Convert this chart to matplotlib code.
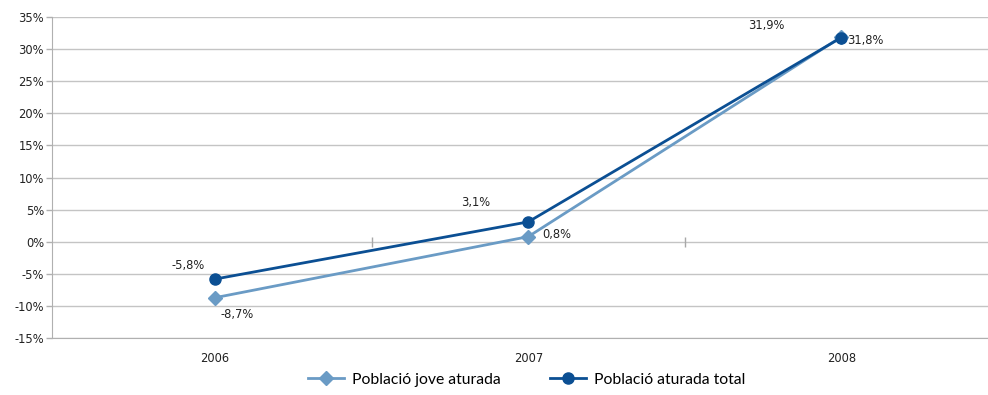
import matplotlib.pyplot as plt
from matplotlib.ticker import FuncFormatter

# Data
years = ['2006', '2007', '2008']
jove = [-8.7, 0.8, 31.9]
total = [-5.8, 3.1, 31.8]
jove_label = 'Població jove aturada'
total_label = 'Població aturada total'

# label offsets in pixels (dx, dy) for each point
jove_off = [(22, -17), (28, 2), (-75, 11)]
total_off = [(-27, 14), (-53, 19), (24, -3)]

light = '#6a9bc5'
dark = '#0b4f93'
grid_c = '#c4c4c4'
txt_c = '#222222'
fs = 8.3

plt.rcParams['font.family'] = ['DejaVu Sans']

fig = plt.figure(figsize=(9.88, 3.95), dpi=100)
ax = fig.add_axes([0.053, 0.144, 0.957, 0.813])

x = list(range(len(years)))
ax.plot(x, jove, color=light, lw=2.0, marker='D', ms=7, label=jove_label, zorder=3)
ax.plot(x, total, color=dark, lw=2.0, marker='o', ms=8, label=total_label, zorder=4)

px = 72 / 100
for xi, v, (dx, dy) in zip(x, jove, jove_off):
    ax.annotate(f'{v:.1f}%'.replace('.', ','), (xi, v), xytext=(dx * px, dy * px),
                textcoords='offset points', ha='center', va='center', fontsize=fs, color=txt_c)
for xi, v, (dx, dy) in zip(x, total, total_off):
    ax.annotate(f'{v:.1f}%'.replace('.', ','), (xi, v), xytext=(dx * px, dy * px),
                textcoords='offset points', ha='center', va='center', fontsize=fs, color=txt_c)

# category separators crossing the zero line
ax.vlines([0.5, 1.5], -0.8, 0.8, color='#a8a8a8', lw=1, zorder=2)

ax.set_xlim(-0.52, 2.5)
ax.set_ylim(-15, 35)
ax.set_yticks(range(-15, 36, 5))
ax.yaxis.set_major_formatter(FuncFormatter(lambda v, p: f'{v:.0f}%'))
ax.set_xticks(x)
ax.set_xticklabels(years)
ax.tick_params(axis='x', length=0, pad=10, labelsize=fs, labelcolor=txt_c)
ax.tick_params(axis='y', length=4, width=1, color='#b0b0b0', pad=2, labelsize=fs, labelcolor=txt_c)

ax.grid(axis='y', color=grid_c, lw=1)
ax.set_axisbelow(True)
for s in ['top', 'right']:
    ax.spines[s].set_visible(False)
ax.spines['left'].set_color('#b0b0b0')
ax.spines['bottom'].set_color('#b0b0b0')

fig.legend(loc='lower center', bbox_to_anchor=(0.533, -0.015), ncol=2, frameon=False,
           handlelength=2.3, handletextpad=0.5, columnspacing=3.1,
           prop={'family': 'Lato', 'size': 11.3})

fig.savefig('out.png', dpi=100)
